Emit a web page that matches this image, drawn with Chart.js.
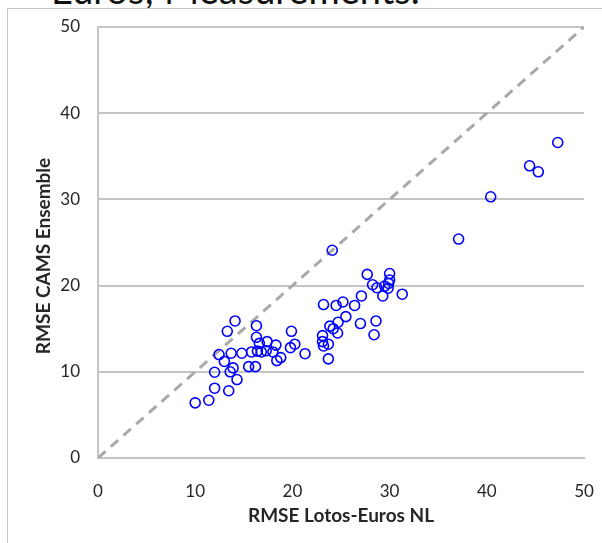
<!DOCTYPE html>
<html>
<head>
<meta charset="utf-8">
<title>RMSE scatter</title>
<script src="https://cdn.jsdelivr.net/npm/chart.js@4.4.0/dist/chart.umd.min.js"></script>
<style>
  html, body { margin:0; padding:0; background:#fff; }
  body { width:602px; height:543px; position:relative; overflow:hidden; font-family: Lato, "Open Sans", sans-serif; }
  #frame { position:absolute; left:7px; top:8px; width:640px; height:600px; border-top:1.5px solid #c4c4c4; border-left:1.5px solid #c4c4c4; }
  #caption { position:absolute; left:51px; top:-30px; font-size:38px; line-height:1; color:#111; white-space:nowrap; }
  #wrap { position:absolute; left:0; top:0; width:602px; height:543px; }
</style>
</head>
<body>
<div id="caption">Euros; Measurements.</div>
<div id="frame"></div>
<div id="wrap"><canvas id="chart" width="602" height="543"></canvas></div>
<script>
// RMSE per station: Lotos-Euros NL (x) vs CAMS Ensemble (y)
const lotosEuros = [
  10.0, 11.4, 12.0, 13.45, 12.0, 13.6, 13.9, 14.3, 13.0, 12.45,
  13.7, 14.8, 15.8, 15.5, 16.2, 13.3, 14.1, 16.3, 16.3, 16.6,
  16.4, 16.8, 17.4, 17.3, 18.3, 18.0, 18.4, 18.8, 19.9, 20.25,
  19.8, 21.3, 23.2, 24.5, 25.2, 26.4, 27.1, 25.5, 24.7, 23.85,
  24.2, 24.65, 23.1, 23.1, 23.2, 23.7, 23.7, 27.0, 28.6, 28.4,
  24.1, 27.7, 30.0, 28.25, 28.7, 29.5, 29.9, 30.0, 29.85, 29.3,
  31.3, 37.1, 40.4, 44.4, 45.3, 47.3
];
const camsEnsemble = [
  6.4, 6.7, 8.1, 7.8, 9.95, 10.0, 10.45, 9.1, 11.2, 12.0,
  12.15, 12.15, 12.3, 10.6, 10.6, 14.7, 15.9, 15.35, 14.0, 13.3,
  12.4, 12.3, 13.5, 12.45, 13.1, 12.3, 11.3, 11.65, 14.7, 13.2,
  12.8, 12.1, 17.8, 17.7, 18.1, 17.7, 18.8, 16.4, 15.75, 15.3,
  15.0, 14.5, 14.2, 13.5, 13.0, 13.2, 11.5, 15.6, 15.9, 14.3,
  24.1, 21.3, 21.4, 20.1, 19.75, 19.95, 20.25, 20.65, 19.7, 18.8,
  19.0, 25.4, 30.3, 33.9, 33.2, 36.6
];
const axisRange = [0, 50];            // 1:1 reference line end points
const tickValues = [0, 10, 20, 30, 40, 50];
const xTitle = "RMSE Lotos-Euros NL";
const yTitle = "RMSE CAMS Ensemble";

const points = lotosEuros.map((x, i) => ({ x: x, y: camsEnsemble[i] }));
const diagonal = axisRange.map(v => ({ x: v, y: v }));

const gridGrey = "#c4c4c4";
const textColor = "#262626";
const tickFont = { family: "Lato", size: 17 };
const titleFont = { family: "Lato", size: 19, weight: "bold" };

// y axis title is drawn by hand, a bit below the axis centre like the original
const yTitlePlugin = {
  id: "yTitle",
  afterDraw(chart){
    const ctx = chart.ctx;
    ctx.save();
    ctx.translate(44, 256);
    ctx.rotate(-Math.PI / 2);
    ctx.font = "bold 19px Lato";
    ctx.fillStyle = textColor;
    ctx.textAlign = "center";
    ctx.textBaseline = "middle";
    ctx.fillText(yTitle, 0, 0);
    ctx.restore();
  }
};

new Chart(document.getElementById("chart").getContext("2d"), {
  type: "scatter",
  data: {
    datasets: [
      {
        label: "stations",
        data: points,
        pointStyle: "circle",
        pointRadius: 5,
        pointBorderWidth: 1.6,
        pointBorderColor: "#0000ff",
        pointBackgroundColor: "rgba(255,255,255,0)",
        showLine: false
      },
      {
        label: "1:1",
        type: "line",
        data: diagonal,
        borderColor: "#a9a9a9",
        borderWidth: 3,
        borderDash: [10, 7],
        pointRadius: 0,
        fill: false
      }
    ]
  },
  options: {
    responsive: false,
    animation: false,
    layout: { padding: { left: 0, top: 27, right: 18, bottom: 0 } },
    plugins: { legend: { display: false }, tooltip: { enabled: false } },
    scales: {
      x: {
        type: "linear",
        min: 0, max: 50,
        afterFit(scale){ scale.height = 85; scale.paddingLeft = 0; scale.paddingRight = 0; },
        afterBuildTicks(scale){ scale.ticks = tickValues.map(v => ({ value: v })); },
        grid: { display: false },
        border: { display: true, color: gridGrey, width: 2 },
        ticks: { font: tickFont, color: textColor, padding: 15, maxRotation: 0 },
        title: { display: true, text: xTitle, font: titleFont, color: textColor, padding: { top: 0, bottom: 16 } }
      },
      y: {
        type: "linear",
        min: 0, max: 50,
        afterFit(scale){ scale.width = 98; scale.paddingTop = 0; scale.paddingBottom = 0; },
        afterBuildTicks(scale){ scale.ticks = tickValues.map(v => ({ value: v })); },
        grid: { display: true, color: gridGrey, lineWidth: 2, drawTicks: false },
        border: { display: true, color: gridGrey, width: 2 },
        ticks: { font: tickFont, color: textColor, padding: 18 }
      }
    }
  },
  plugins: [yTitlePlugin]
});
</script>
</body>
</html>
